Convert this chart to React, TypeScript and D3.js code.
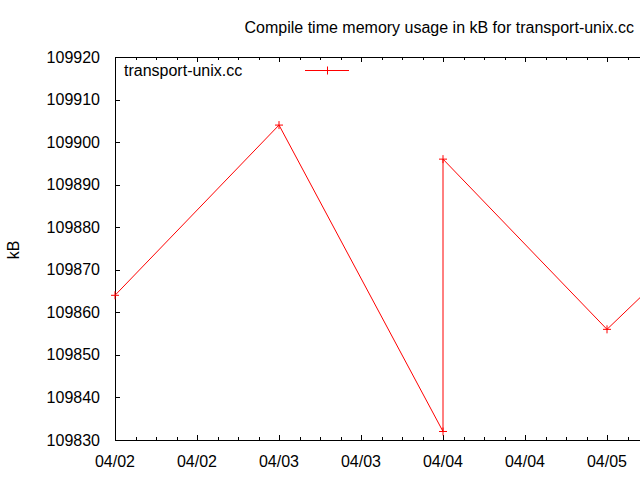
import React, { useEffect, useRef } from "react";
import * as d3 from "d3";

const dates = ["2010-04-02T00:00", "2010-04-03T00:00", "2010-04-04T00:00", "2010-04-04T00:00", "2010-04-05T00:00", "2010-04-06T00:00"];
const values = [109864, 109904, 109832, 109896, 109856, 109893];
const yTicks = [109830, 109840, 109850, 109860, 109870, 109880, 109890, 109900, 109910, 109920];
const title = "Compile time memory usage in kB for transport-unix.cc";
const seriesName = "transport-unix.cc";
const yLabel = "kB";

const W = 640, H = 480;
const L = 115, T = 57, R = 640, B = 440;
const FONT = "Liberation Sans, Arial, sans-serif";
const FS = 16;

export default function App() {
  const ref = useRef<SVGSVGElement>(null);
  useEffect(() => {
    const svg = d3.select(ref.current);
    svg.selectAll("*").remove();
    const parse = d3.timeParse("%Y-%m-%dT%H:%M");
    const pts = dates.map((d, i) => ({ t: parse(d)!, v: values[i] }));
    const t0 = parse("2010-04-02T00:00")!;
    const msPerPx = (24 * 3600 * 1000) / 164;
    const t1 = new Date(t0.getTime() + (R - L) * msPerPx);
    const x = d3.scaleTime().domain([t0, t1]).range([L, R]);
    const y = d3.scaleLinear().domain([109830, 109920]).range([B, T]);

    svg.append("rect").attr("width", W).attr("height", H).attr("fill", "white");

    const defs = svg.append("defs");
    defs.append("clipPath").attr("id", "clip")
      .append("rect").attr("x", L).attr("y", T).attr("width", R - L).attr("height", B - T);

    const g = svg.append("g").attr("font-family", FONT).attr("font-size", FS).attr("fill", "#000");

    const majors = d3.timeHour.every(12)!.range(t0, new Date(t1.getTime() + 1));
    const minors = d3.timeHour.every(3)!.range(t0, new Date(t1.getTime() + 1));
    const fmt = d3.timeFormat("%m/%d");
    minors.forEach((d) => {
      const xx = Math.round(x(d)) + 0.5;
      const len = majors.some((m) => m.getTime() === d.getTime()) ? 5 : 3;
      g.append("line").attr("x1", xx).attr("x2", xx).attr("y1", B).attr("y2", B - len).attr("stroke", "#000");
      g.append("line").attr("x1", xx).attr("x2", xx).attr("y1", T).attr("y2", T + len).attr("stroke", "#000");
    });
    majors.forEach((d) => {
      g.append("text").attr("x", x(d)).attr("y", 467).attr("text-anchor", "middle").text(fmt(d));
    });

    yTicks.forEach((v) => {
      const yy = Math.round(y(v)) + 0.5;
      g.append("line").attr("x1", L).attr("x2", L + 5).attr("y1", yy).attr("y2", yy).attr("stroke", "#000");
      g.append("text").attr("x", 100).attr("y", y(v) + 5.5).attr("text-anchor", "end").text(String(v));
    });

    g.append("path")
      .attr("d", `M${R},${B + 0.5}H${L + 0.5}V${T + 0.5}H${R}`)
      .attr("fill", "none").attr("stroke", "#000");

    g.append("text").attr("x", 634).attr("y", 33).attr("text-anchor", "end").text(title);
    g.append("text").attr("transform", `translate(19,250) rotate(-90)`).attr("text-anchor", "middle").text(yLabel);

    const line = d3.line<{ t: Date; v: number }>().x((d) => x(d.t)).y((d) => y(d.v));
    const pg = svg.append("g").attr("clip-path", "url(#clip)");
    pg.append("path").datum(pts).attr("d", line).attr("fill", "none").attr("stroke", "red").attr("stroke-width", 1);
    pts.forEach((p) => {
      const px = x(p.t), py = y(p.v);
      if (px > R) return;
      svg.append("path").attr("d", `M${px - 4},${py}H${px + 4}M${px},${py - 4}V${py + 4}`)
        .attr("stroke", "red").attr("fill", "none");
    });

    g.append("text").attr("x", 124).attr("y", 76).text(seriesName);
    svg.append("line").attr("x1", 305).attr("x2", 349).attr("y1", 70.5).attr("y2", 70.5).attr("stroke", "red");
    svg.append("path").attr("d", `M323,70.5H331M327.5,66.5V74.5`).attr("stroke", "red");
  }, []);
  return (
    <svg ref={ref} width={W} height={H} style={{ position: "absolute", left: 0, top: 0 }} />
  );
}
